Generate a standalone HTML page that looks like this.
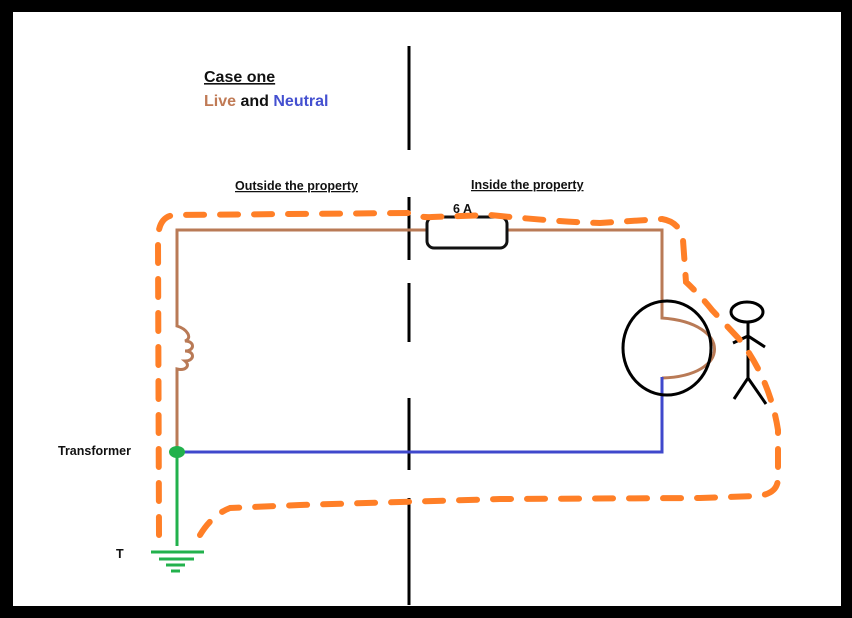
<!DOCTYPE html>
<html><head><meta charset="utf-8"><style>
html,body{margin:0;padding:0;background:#000;}
svg{display:block;font-family:"Liberation Sans",sans-serif;}
</style></head><body>
<svg width="852" height="618" viewBox="0 0 852 618">
<rect x="0" y="0" width="852" height="618" fill="#000"/>
<rect x="13" y="12" width="828" height="594" fill="#fff"/>

<g>
<text x="204" y="82" font-size="16" font-weight="bold" fill="#111" text-decoration="underline">Case one</text>
<text x="204" y="106" font-size="16" font-weight="bold"><tspan fill="#c07a55">Live</tspan><tspan fill="#111"> and </tspan><tspan fill="#4450d0">Neutral</tspan></text>
</g>

<g>
<text x="235" y="190" font-size="12.5" font-weight="bold" fill="#111" text-decoration="underline">Outside the property</text>
<text x="471" y="189" font-size="12.5" font-weight="bold" fill="#111" text-decoration="underline">Inside the property</text>
</g>

<path d="M409 46V150 M409 197V260 M409 283V342 M409 398V470 M409 498V605" stroke="#000" stroke-width="3" fill="none"/>

<path d="M177 452V369 c8 2 14 -3 8 -8 c10 0 10 -10 0 -10 c10 0 10 -10 0 -10 c8 -3 2 -12 -8 -15 V230 H662 V318 c70 5 70 58 0 60" stroke="#b97a56" stroke-width="3" fill="none"/>
<path d="M177 452H662V377" stroke="#3f48cc" stroke-width="3" fill="none"/>

<rect x="427" y="217" width="80" height="31" rx="7" fill="#fff" stroke="#111" stroke-width="3"/>

<ellipse cx="667" cy="348" rx="44" ry="47" fill="none" stroke="#000" stroke-width="3"/>

<g stroke="#000" stroke-width="3" fill="none">
<ellipse cx="747" cy="312" rx="16" ry="10"/>
<path d="M748 322V378 M733 343L748 336L765 347 M734 399L748 378L766 404"/>
</g>

<g>
<line x1="177" y1="452" x2="177" y2="546" stroke="#22b14c" stroke-width="3"/>
<ellipse cx="177" cy="452" rx="8" ry="6" fill="#22b14c"/>
<path d="M151 552H204 M159 559H194 M166 565H185 M171 571H180" stroke="#22b14c" stroke-width="3"/>
</g>

<text x="58" y="455" font-size="12.5" font-weight="bold" fill="#111">Transformer</text>
<text x="116" y="558" font-size="12.5" font-weight="bold" fill="#111">T</text>

<path d="M159 535 L158 240 Q158 216 175 215 L410 213 Q420 218 432 217 L490 215 Q560 222 600 223 L662 219 Q680 222 683 240 L686 282 Q700 295 712 310 L740 340 Q770 380 778 430 L778 478 Q778 495 755 496 L700 498 L500 499 L300 505 L230 508 Q212 515 200 535" stroke="#ff7f27" stroke-width="6" stroke-linecap="round" fill="none" stroke-dasharray="18 16"/>
<text x="453" y="213" font-size="12.5" font-weight="bold" fill="#111">6 A</text>
</svg>
</body></html>
